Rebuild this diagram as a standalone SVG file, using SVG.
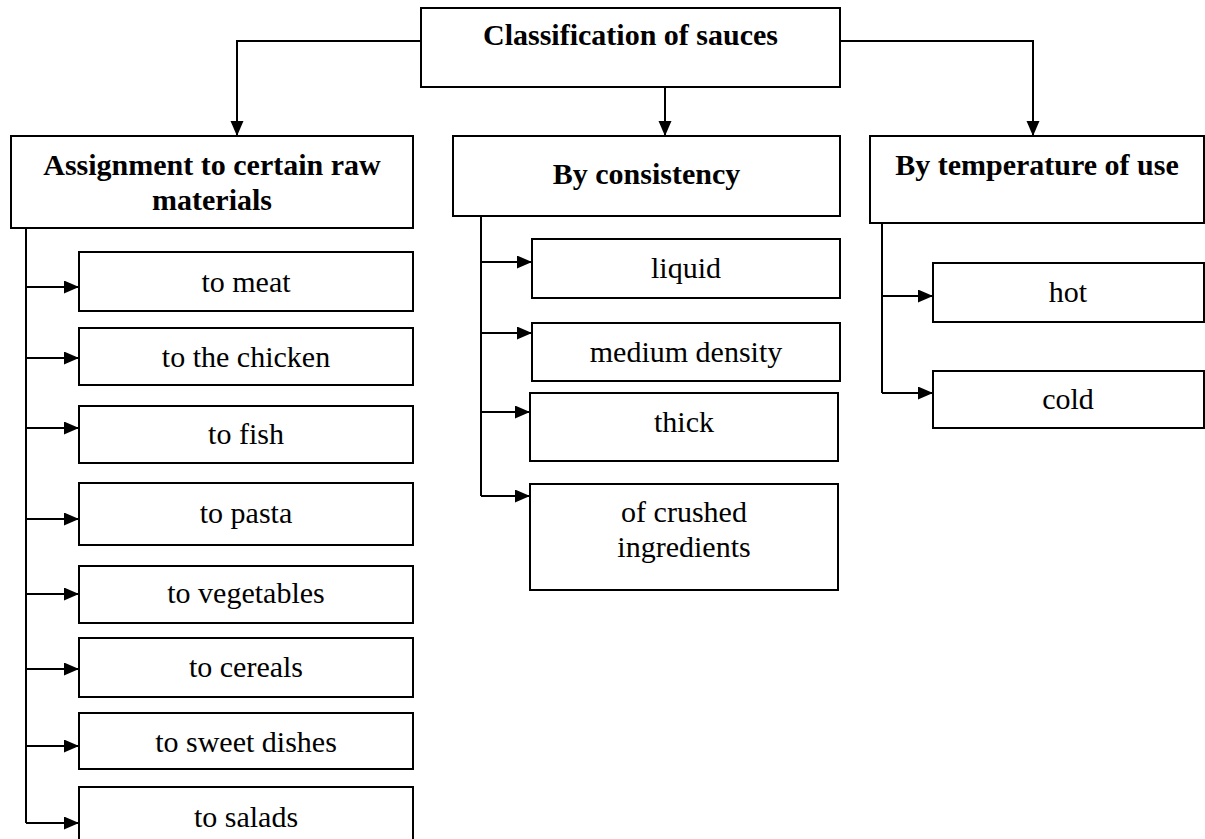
<svg xmlns="http://www.w3.org/2000/svg" width="1205" height="839" viewBox="0 0 1205 839">
<style>
.box{fill:#fff;stroke:#000;stroke-width:2}
.c{fill:none;stroke:#000;stroke-width:2}
text{font-family:"Liberation Serif","Times New Roman",serif;font-size:30px;fill:#000;text-anchor:middle}
.b{font-weight:bold}
</style>
<defs>
<marker id="ah" markerUnits="userSpaceOnUse" markerWidth="16" markerHeight="14" refX="15" refY="6.5" orient="auto">
<path d="M0,0 L15,6.5 L0,13 Z" fill="#000"/>
</marker>
</defs>
<rect width="1205" height="839" fill="#fff"/>
<g id="connectors">
<path class="c" d="M421,41 H237 V136" marker-end="url(#ah)"/>
<path class="c" d="M665,87 V136" marker-end="url(#ah)"/>
<path class="c" d="M840,41 H1033 V136" marker-end="url(#ah)"/>
<path class="c" d="M26,228 V823"/>
<path class="c" d="M26,287 H79" marker-end="url(#ah)"/>
<path class="c" d="M26,358 H79" marker-end="url(#ah)"/>
<path class="c" d="M26,428 H79" marker-end="url(#ah)"/>
<path class="c" d="M26,519 H79" marker-end="url(#ah)"/>
<path class="c" d="M26,594 H79" marker-end="url(#ah)"/>
<path class="c" d="M26,669 H79" marker-end="url(#ah)"/>
<path class="c" d="M26,746 H79" marker-end="url(#ah)"/>
<path class="c" d="M26,823 H79" marker-end="url(#ah)"/>
<path class="c" d="M481,216 V496"/>
<path class="c" d="M481,262 H532" marker-end="url(#ah)"/>
<path class="c" d="M481,333 H532" marker-end="url(#ah)"/>
<path class="c" d="M481,412 H530" marker-end="url(#ah)"/>
<path class="c" d="M481,496 H530" marker-end="url(#ah)"/>
<path class="c" d="M882,223 V393"/>
<path class="c" d="M882,296 H933" marker-end="url(#ah)"/>
<path class="c" d="M882,393 H933" marker-end="url(#ah)"/>
</g>
<g id="root"><rect class="box" x="421" y="8" width="419" height="79"/><text class="b" x="630.5" y="45">Classification of sauces</text></g>
<g id="raw"><rect class="box" x="11" y="136" width="402" height="92"/><text class="b" x="212" y="175">Assignment to certain raw</text><text class="b" x="212" y="210">materials</text></g>
<g id="consistency"><rect class="box" x="453" y="136" width="387" height="80"/><text class="b" x="646.5" y="184">By consistency</text></g>
<g id="temperature"><rect class="box" x="870" y="136" width="334" height="87"/><text class="b" x="1037" y="175">By temperature of use</text></g>
<g id="meat"><rect class="box" x="79" y="252" width="334" height="59"/><text x="246" y="292">to meat</text></g>
<g id="chicken"><rect class="box" x="79" y="328" width="334" height="57"/><text x="246" y="367">to the chicken</text></g>
<g id="fish"><rect class="box" x="79" y="406" width="334" height="57"/><text x="246" y="444">to fish</text></g>
<g id="pasta"><rect class="box" x="79" y="483" width="334" height="62"/><text x="246" y="523">to pasta</text></g>
<g id="vegetables"><rect class="box" x="79" y="566" width="334" height="57"/><text x="246" y="603">to vegetables</text></g>
<g id="cereals"><rect class="box" x="79" y="638" width="334" height="59"/><text x="246" y="677">to cereals</text></g>
<g id="sweet"><rect class="box" x="79" y="713" width="334" height="56"/><text x="246" y="752">to sweet dishes</text></g>
<g id="salads"><rect class="box" x="79" y="787" width="334" height="60"/><text x="246" y="827">to salads</text></g>
<g id="liquid"><rect class="box" x="532" y="239" width="308" height="59"/><text x="686" y="278">liquid</text></g>
<g id="medium"><rect class="box" x="532" y="323" width="308" height="58"/><text x="686" y="362">medium density</text></g>
<g id="thick"><rect class="box" x="530" y="393" width="308" height="68"/><text x="684" y="432">thick</text></g>
<g id="crushed"><rect class="box" x="530" y="484" width="308" height="106"/><text x="684" y="522">of crushed</text><text x="684" y="557">ingredients</text></g>
<g id="hot"><rect class="box" x="933" y="263" width="271" height="59"/><text x="1068" y="302">hot</text></g>
<g id="cold"><rect class="box" x="933" y="371" width="271" height="57"/><text x="1068" y="409">cold</text></g>
</svg>
